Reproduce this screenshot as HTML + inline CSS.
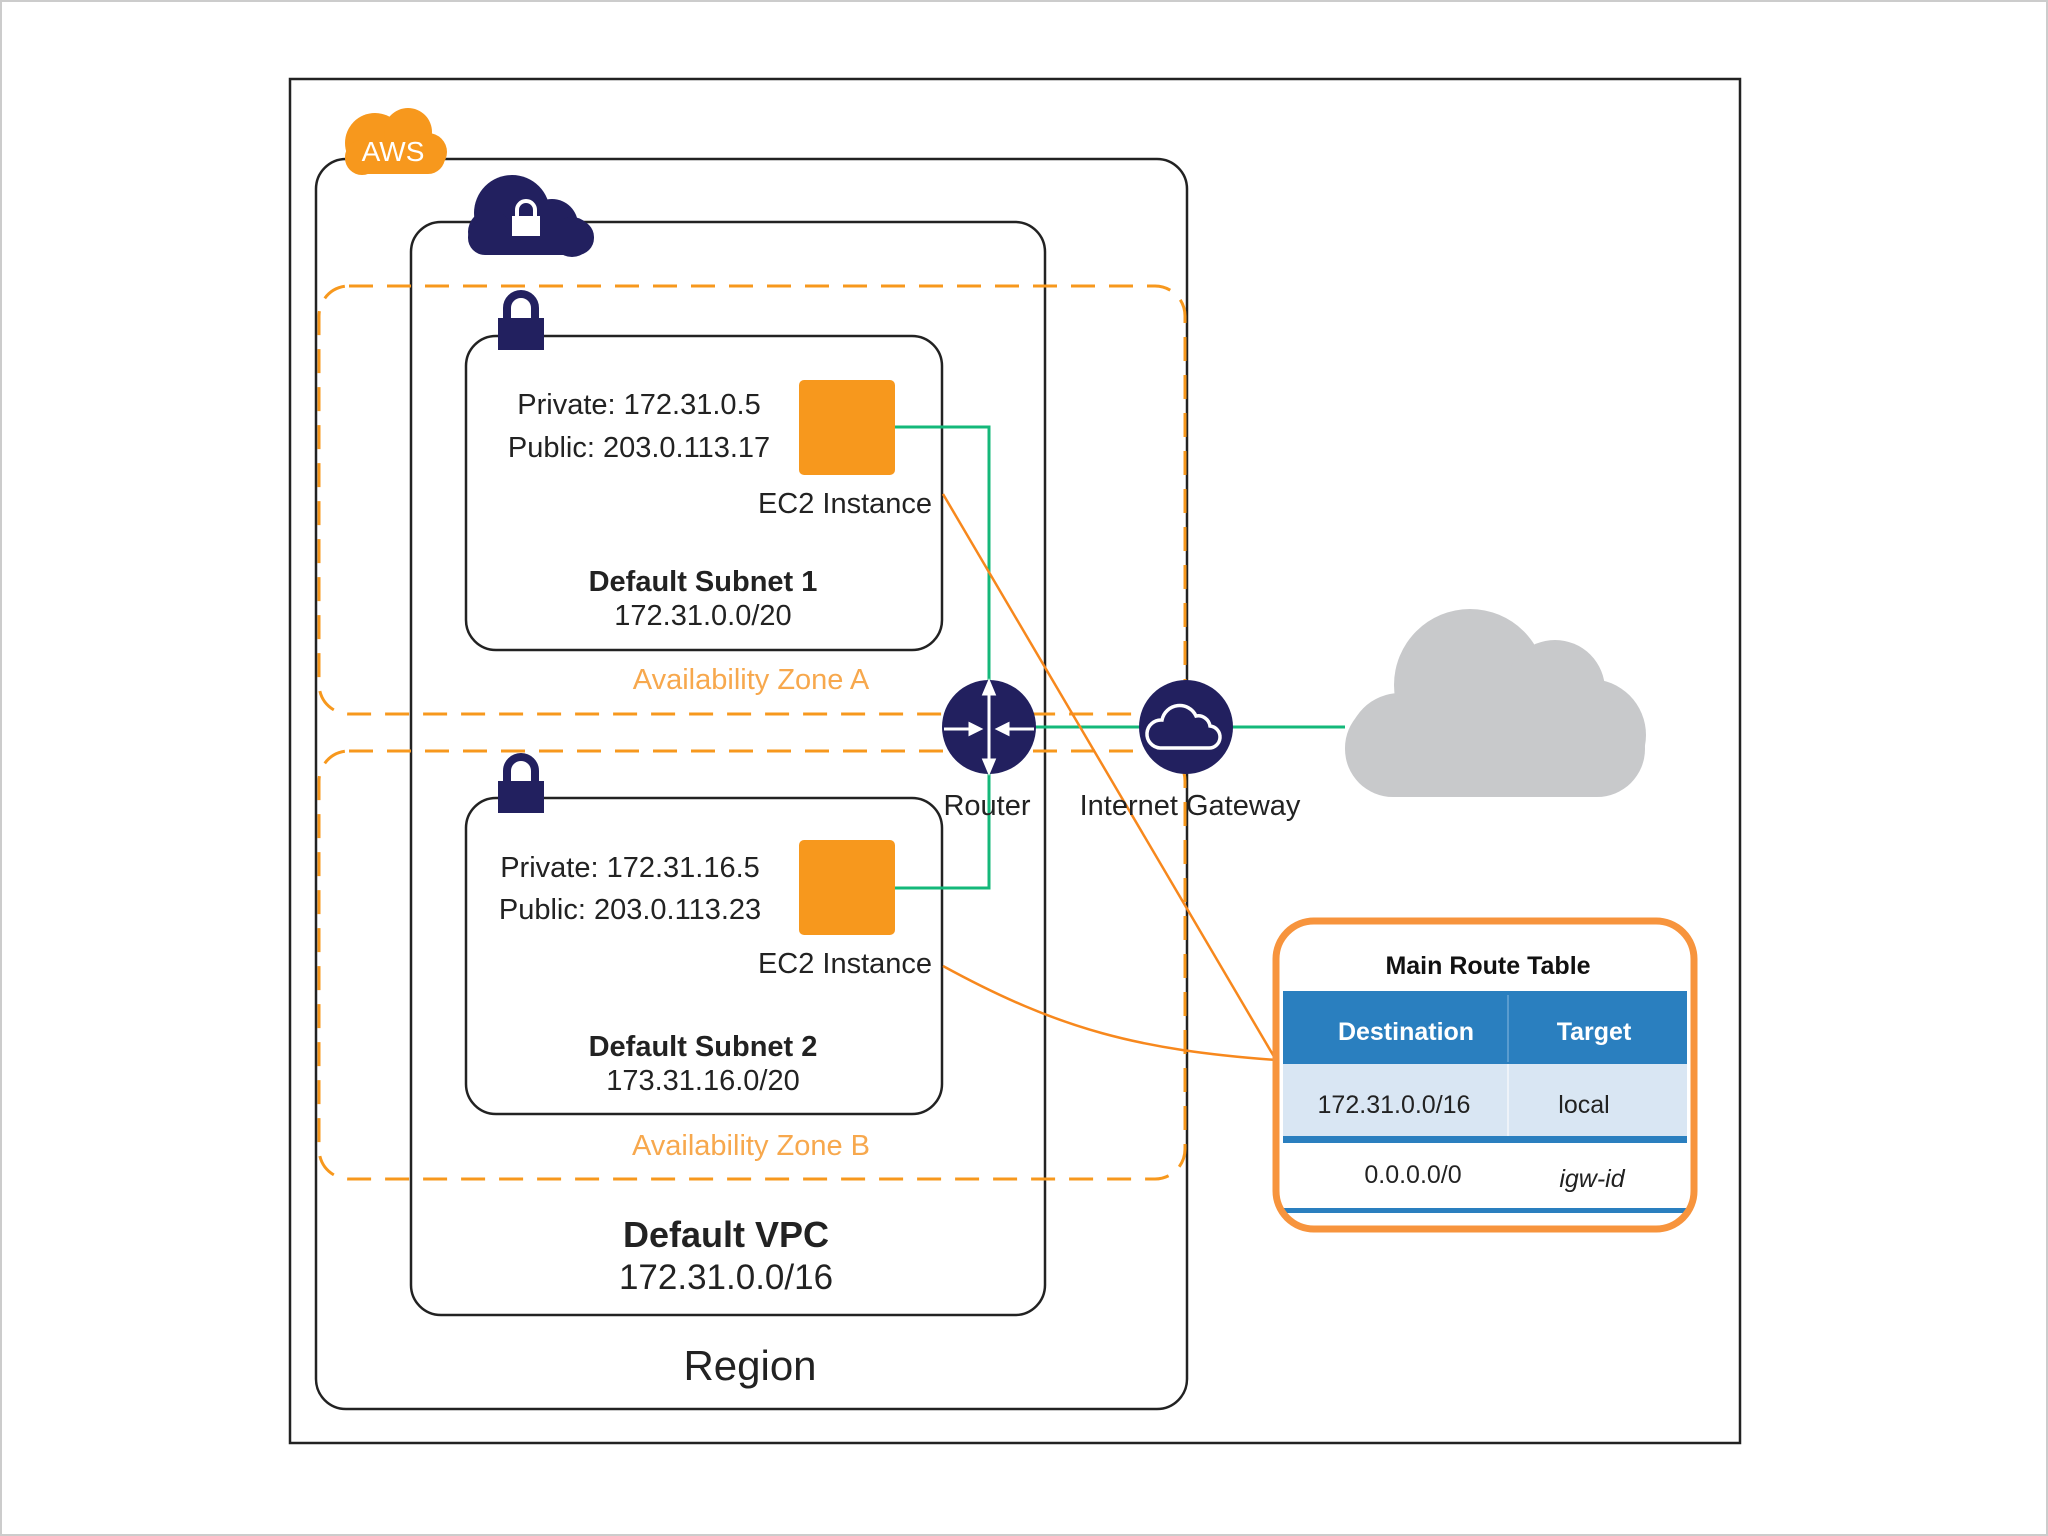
<!DOCTYPE html>
<html><head><meta charset="utf-8"><style>html,body{margin:0;padding:0;background:#fff}svg{display:block}</style></head>
<body>
<svg width="2048" height="1536" viewBox="0 0 2048 1536" xmlns="http://www.w3.org/2000/svg" font-family="Liberation Sans, DejaVu Sans, sans-serif">
<rect x="0" y="0" width="2048" height="1536" fill="#fff"/>
<rect x="1" y="1" width="2046" height="1534" fill="none" stroke="#ccc" stroke-width="2"/>
<!-- outer frame -->
<rect x="290" y="79" width="1450" height="1364" fill="none" stroke="#222" stroke-width="2.5"/>
<!-- Region -->
<rect x="316" y="159" width="871" height="1250" rx="30" fill="none" stroke="#222" stroke-width="2.5"/>
<!-- AWS cloud -->
<g fill="#F7981D">
<circle cx="375" cy="143" r="30"/><circle cx="408" cy="132" r="24"/><circle cx="428" cy="152" r="19"/><circle cx="362" cy="158" r="17"/>
<rect x="345" y="140" width="100" height="34" rx="17"/>
</g>
<text x="393" y="161" font-size="28" fill="#fff" text-anchor="middle" font-family="Liberation Sans Narrow, Liberation Sans, sans-serif">AWS</text>
<!-- VPC -->
<rect x="411" y="222" width="634" height="1093" rx="30" fill="none" stroke="#222" stroke-width="2.5"/>
<g fill="#22205F">
<circle cx="512" cy="213" r="38"/><circle cx="552" cy="225" r="26"/><circle cx="490" cy="232" r="22"/><circle cx="572" cy="237" r="20"/>
<rect x="468" y="220" width="126" height="35" rx="17"/>
</g>
<rect x="512" y="216" width="28" height="20" fill="#fff"/>
<path d="M517 216 v-6 a9 9 0 0 1 18 0 v6" fill="none" stroke="#fff" stroke-width="4"/>
<!-- AZ dashed -->
<rect x="319" y="286" width="866" height="428" rx="30" fill="none" stroke="#F7981D" stroke-width="3" stroke-dasharray="24,14"/>
<rect x="319" y="751" width="866" height="428" rx="30" fill="none" stroke="#F7981D" stroke-width="3" stroke-dasharray="24,14"/>
<!-- Subnets -->
<rect x="466" y="336" width="476" height="314" rx="30" fill="#fff" stroke="#222" stroke-width="2.5"/>
<rect x="466" y="798" width="476" height="316" rx="30" fill="#fff" stroke="#222" stroke-width="2.5"/>
<!-- locks -->
<g fill="#22205F">
<rect x="498" y="318" width="46" height="32"/>
<path d="M507 318 v-10 a14 14 0 0 1 28 0 v10" fill="none" stroke="#22205F" stroke-width="8"/>
<rect x="498" y="781" width="46" height="32"/>
<path d="M507 781 v-10 a14 14 0 0 1 28 0 v10" fill="none" stroke="#22205F" stroke-width="8"/>
</g>
<!-- EC2 -->
<rect x="799" y="380" width="96" height="95" rx="5" fill="#F7981D"/>
<rect x="799" y="840" width="96" height="95" rx="5" fill="#F7981D"/>
<!-- green lines -->
<g stroke="#14B87A" stroke-width="3" fill="none">
<path d="M895 427 H989 V888 H895"/>
<path d="M989 727 H1345"/>
</g>
<!-- orange lines -->
<g stroke="#F7881D" stroke-width="2.5" fill="none">
<path d="M943 494 L1276 1060"/>
<path d="M943 966 C1060 1030 1140 1050 1276 1060"/>
</g>
<!-- router -->
<circle cx="989" cy="727" r="47" fill="#22205F"/>
<g stroke="#fff" stroke-width="3" fill="#fff">
<line x1="989" y1="684" x2="989" y2="770"/>
<line x1="944" y1="729" x2="978" y2="729"/>
<line x1="1034" y1="729" x2="1000" y2="729"/>
<path d="M984 694 L989 682 L994 694Z"/><path d="M984 760 L989 772 L994 760Z"/>
<path d="M970 724 L980 729 L970 734Z"/><path d="M1008 724 L998 729 L1008 734Z"/>
</g>
<!-- IGW -->
<circle cx="1186" cy="727" r="47" fill="#22205F"/>
<path d="M1160 748 a14 14 0 0 1 2 -28 a18 18 0 0 1 34 -4 a12 12 0 0 1 14 10 a11 11 0 0 1 -2 22 Z" fill="none" stroke="#fff" stroke-width="3.5"/>
<!-- region vertical line over gateway -->
<!-- grey cloud -->
<g fill="#C8C9CB">
<circle cx="1470" cy="685" r="76"/><circle cx="1555" cy="690" r="50"/><circle cx="1590" cy="735" r="56"/><circle cx="1400" cy="745" r="52"/>
<rect x="1345" y="700" width="300" height="97" rx="48"/>
</g>
<!-- text -->
<g fill="#222" font-size="29" text-anchor="middle">
<text x="639" y="414">Private: 172.31.0.5</text>
<text x="639" y="457">Public: 203.0.113.17</text>
<text x="845" y="513">EC2 Instance</text>
<text x="703" y="591" font-weight="bold">Default Subnet 1</text>
<text x="703" y="625">172.31.0.0/20</text>
<text x="630" y="877">Private: 172.31.16.5</text>
<text x="630" y="919">Public: 203.0.113.23</text>
<text x="845" y="973">EC2 Instance</text>
<text x="703" y="1056" font-weight="bold">Default Subnet 2</text>
<text x="703" y="1090">173.31.16.0/20</text>
<text x="726" y="1247" font-size="36" font-weight="bold">Default VPC</text>
<text x="726" y="1289" font-size="35">172.31.0.0/16</text>
<text x="750" y="1380" font-size="42">Region</text>
<text x="987" y="815">Router</text>
<text x="1190" y="815">Internet Gateway</text>
</g>
<g fill="#F7A84D" font-size="29" text-anchor="middle">
<text x="751" y="689">Availability Zone A</text>
<text x="751" y="1155">Availability Zone B</text>
</g>
<!-- route table -->
<rect x="1283" y="991" width="404" height="73" fill="#2A7FBF"/>
<line x1="1508" y1="995" x2="1508" y2="1062" stroke="#5A9CCF" stroke-width="2"/>
<rect x="1283" y="1064" width="404" height="72" fill="#D9E6F3"/>
<line x1="1508" y1="1064" x2="1508" y2="1136" stroke="#eef3f9" stroke-width="2"/>
<rect x="1283" y="1136" width="404" height="7" fill="#2A7FBF"/>
<rect x="1283" y="1208" width="404" height="5" fill="#2A7FBF"/>
<rect x="1276" y="921" width="418" height="308" rx="38" fill="none" stroke="#F7943D" stroke-width="7"/>
<g font-size="25" text-anchor="middle">
<text x="1488" y="974" font-weight="bold" fill="#111">Main Route Table</text>
<text x="1406" y="1040" font-weight="bold" fill="#fff">Destination</text>
<text x="1594" y="1040" font-weight="bold" fill="#fff">Target</text>
<text x="1394" y="1113" fill="#222">172.31.0.0/16</text>
<text x="1584" y="1113" fill="#222">local</text>
<text x="1413" y="1183" fill="#222">0.0.0.0/0</text>
<text x="1592" y="1187" fill="#222" font-style="italic">igw-id</text>
</g>
</svg>
</body></html>
